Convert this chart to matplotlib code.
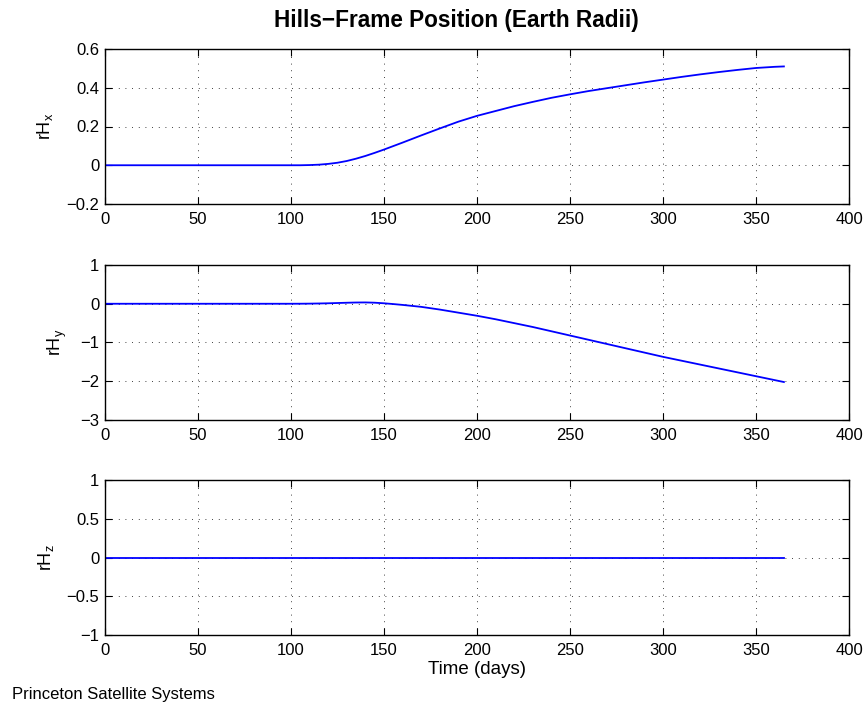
import matplotlib
matplotlib.use("Agg")
import matplotlib.pyplot as plt

plt.rcParams["font.family"] = ["Liberation Sans", "DejaVu Sans"]
plt.rcParams["mathtext.fontset"] = "custom"
plt.rcParams["mathtext.rm"] = "Liberation Sans"
plt.rcParams["mathtext.it"] = "Liberation Sans"

# time in days and the three Hills-frame components (Earth radii)
days = [0, 10, 20, 30, 40, 50, 60, 70, 80, 90, 100, 105, 110, 115, 120,
        125, 130, 135, 140, 145, 150, 155, 160, 170, 180, 190, 200, 210,
        220, 230, 240, 250, 260, 270, 280, 290, 300, 310, 320, 330, 340,
        350, 360, 365]
rh_x = [0, 0, 0, 0, 0, 0, 0, 0, 0, 0, 0, 0, 0.001, 0.003, 0.007,
        0.013, 0.022, 0.034, 0.048, 0.064, 0.081, 0.099, 0.117, 0.154, 0.19,
        0.225, 0.255, 0.28, 0.305, 0.327, 0.348, 0.366, 0.383, 0.398, 0.413,
        0.428, 0.442, 0.456, 0.469, 0.481, 0.492, 0.502, 0.508, 0.51]
rh_y = [0, 0, 0, 0, 0, 0, 0, 0, 0, 0, 0, 0.001, 0.003, 0.007, 0.012,
        0.019, 0.026, 0.032, 0.034, 0.027, 0.012, -0.008, -0.03, -0.08, -0.15,
        -0.23, -0.31, -0.40, -0.50, -0.60, -0.71, -0.82, -0.93, -1.04, -1.15,
        -1.26, -1.37, -1.47, -1.57, -1.67, -1.77, -1.87, -1.97, -2.02]
rh_z = [0] * len(days)

series = [rh_x, rh_y, rh_z]
y_labels = [r"rH$_{\rm x}$", r"rH$_{\rm y}$", r"rH$_{\rm z}$"]
y_limits = [(-0.2, 0.6), (-3, 1), (-1, 1)]
y_ticks = [[-0.2, 0, 0.2, 0.4, 0.6], [-3, -2, -1, 0, 1], [-1, -0.5, 0, 0.5, 1]]
y_ticklabels = [["\u22120.2", "0", "0.2", "0.4", "0.6"],
                ["\u22123", "\u22122", "\u22121", "0", "1"],
                ["\u22121", "\u22120.5", "0", "0.5", "1"]]
x_ticks = [0, 50, 100, 150, 200, 250, 300, 350, 400]

W, H = 867, 704
fig = plt.figure(figsize=(W / 100, H / 100), dpi=100)

left, right = 105, 849
panel_tops = [49, 265, 480]
panel_h = 155

for i in range(3):
    top = panel_tops[i]
    ax = fig.add_axes([left / W, 1 - (top + panel_h) / H,
                       (right - left) / W, panel_h / H])
    ax.plot(days, series[i], color="#0000ff", linewidth=1.3)
    ax.set_xlim(0, 400)
    ax.set_ylim(*y_limits[i])
    ax.set_xticks(x_ticks)
    ax.set_yticks(y_ticks[i])
    ax.set_yticklabels(y_ticklabels[i])
    ax.grid(True, color="black", linestyle=(0, (1, 7)), linewidth=0.6)
    ax.tick_params(direction="in", top=True, right=True, length=5,
                   width=0.8, labelsize=12)
    ax.tick_params(axis="x", pad=6)
    ax.tick_params(axis="y", pad=4)
    for spine in ax.spines.values():
        spine.set_linewidth(1.0)
    ax.set_ylabel(y_labels[i], fontsize=13, labelpad=8)
    if i == 0:
        ax.set_title("Hills\u2212Frame Position (Earth Radii)", x=0.472,
                     fontsize=16.3, fontweight="bold", pad=16)
    if i == 2:
        ax.set_xlabel("Time (days)", fontsize=13.5, labelpad=2)

fig.text(12 / W, 1 - 695 / H, "Princeton Satellite Systems",
         fontsize=12, ha="left", va="center")

fig.savefig("out.png", dpi=100)
